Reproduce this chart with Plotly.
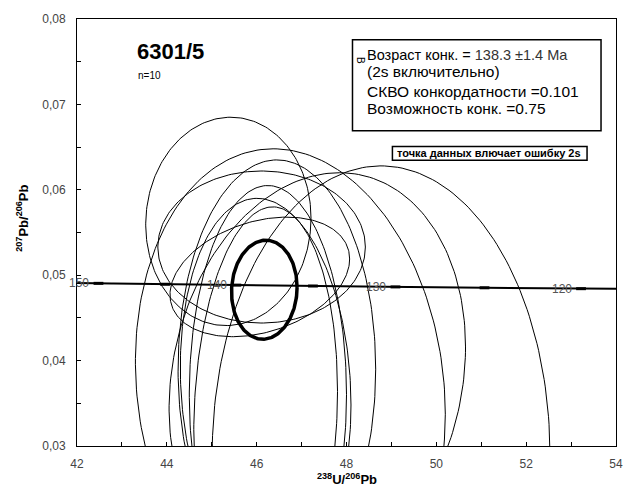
import numpy as np
import plotly.graph_objects as go

# ---- data: 10 analysis ellipses (centre, 2-sigma half-extent, error correlation)
ell_x   = [45.37, 46.11, 46.07, 48.77, 46.75, 47.35, 46.45, 46.20, 46.25, 46.20]
ell_y   = [0.0563, 0.0533, 0.0498, 0.0290, 0.0368, 0.0380, 0.0390, 0.0370, 0.0360, 0.0340]
ell_sx  = [1.84, 2.31, 2.00, 3.76, 3.45, 3.30, 2.20, 1.90, 1.75, 1.60]
ell_sy  = [0.0122, 0.0089, 0.0070, 0.0338, 0.0280, 0.0240, 0.0245, 0.0220, 0.0245, 0.0240]
ell_rho = [0.03, 0.00, 0.30, 0.00, -0.11, 0.15, 0.00, -0.10, 0.00, 0.10]

# concordia-age ellipse
mean_x, mean_y, mean_sx, mean_sy, mean_rho = 46.17, 0.0483, 0.73, 0.0058, 0.05

# concordia age ticks / labels (Ma)
age_ticks = [115, 120, 125, 130, 135, 140, 145, 150, 155]
age_labels = [120, 130, 140, 150]

box_lines = ["Возраст конк. = <span style='color:#333'>138.3 ±1.4 Ma</span>",
             "(2s включительно)",
             "СКВО конкордатности =0.101",
             "Возможность конк. =0.75"]

L238, L235, U = 1.55125e-10, 9.8485e-10, 137.88


def tw(age_ma):
    t = np.asarray(age_ma, dtype=float) * 1e6
    e8 = np.expm1(L238 * t)
    e5 = np.expm1(L235 * t)
    return 1.0 / e8, e5 / e8 / U


def ellipse(cx, cy, sx, sy, rho, n=240):
    th = np.linspace(0, 2 * np.pi, n)
    x = cx + sx * np.cos(th)
    y = cy + sy * (rho * np.cos(th) + np.sqrt(1 - rho ** 2) * np.sin(th))
    return x, y


fig = go.Figure()

for cx, cy, sx, sy, r in zip(ell_x, ell_y, ell_sx, ell_sy, ell_rho):
    x, y = ellipse(cx, cy, sx, sy, r)
    fig.add_trace(go.Scatter(x=x, y=y, mode="lines",
                             line=dict(color="black", width=1), hoverinfo="skip"))

# concordia curve
ages = np.linspace(110, 160, 400)
cxs, cys = tw(ages)
fig.add_trace(go.Scatter(x=cxs, y=cys, mode="lines",
                         line=dict(color="black", width=2), hoverinfo="skip"))
tx, ty = tw(age_ticks)
fig.add_trace(go.Scatter(x=tx, y=ty, mode="markers",
                         marker=dict(symbol="line-ew", size=7,
                                     line=dict(color="black", width=3)),
                         hoverinfo="skip"))

# concordia-age ellipse
mx, my = ellipse(mean_x, mean_y, mean_sx, mean_sy, mean_rho)
fig.add_trace(go.Scatter(x=mx, y=my, mode="lines",
                         line=dict(color="black", width=3.5), hoverinfo="skip"))

font = "Arial, Liberation Sans, sans-serif"
W, H = 635, 496
L, R, T, B = 77, 18, 14, 50
pw, ph = W - L - R, H - T - B


def px(xp):
    return (xp - L) / pw


def py(yp):
    return (H - B - yp) / ph


ann = []
lx, ly = tw(age_labels)
for a, xx, yy in zip(age_labels, lx, ly):
    ann.append(dict(x=xx, y=yy, xref="x", yref="y", text=str(a), showarrow=False,
                    xanchor="right", yanchor="middle", xshift=-7,
                    font=dict(family=font, size=12, color="#555")))

pann = []
pann.append(dict(x=px(135), y=py(47), text="<b>6301/5</b>", showarrow=False,
                 xanchor="left", yanchor="middle", font=dict(family=font, size=22, color="black")))
pann.append(dict(x=px(136), y=py(71), text="n=10", showarrow=False,
                 xanchor="left", yanchor="middle", font=dict(family=font, size=10, color="black")))
line_y = [50, 67, 87, 105]
line_sz = [14.5, 15.5, 15.5, 15.5]
for txt, yy, sz in zip(box_lines, line_y, line_sz):
    pann.append(dict(x=px(366), y=py(yy), text=txt, showarrow=False,
                     xanchor="left", yanchor="middle",
                     font=dict(family=font, size=sz, color="black")))
pann.append(dict(x=px(361), y=py(56), text="В", textangle=90, showarrow=False,
                 xanchor="center", yanchor="middle", font=dict(family=font, size=10, color="black")))
pann.append(dict(x=px(490), y=py(150), text="<b>точка данных влючает ошибку 2s</b>", showarrow=False,
                 xanchor="center", yanchor="middle", font=dict(family=font, size=11, color="black")))
pann.append(dict(x=px(22), y=py(216), text="<b><sup>207</sup>Pb/<sup>206</sup>Pb</b>", textangle=-90,
                 showarrow=False, xanchor="center", yanchor="middle",
                 font=dict(family=font, size=13, color="black")))
pann.append(dict(x=px(347), y=py(479), text="<b><sup>238</sup>U/<sup>206</sup>Pb</b>",
                 showarrow=False, xanchor="center", yanchor="middle",
                 font=dict(family=font, size=13, color="black")))
for a in pann:
    a["xref"] = "paper"
    a["yref"] = "paper"
ann += pann

shapes = [
    dict(type="rect", xref="paper", yref="paper", x0=px(353), x1=px(602), y0=py(127), y1=py(35),
         line=dict(color="black", width=1.5), fillcolor="white", layer="above"),
    dict(type="rect", xref="paper", yref="paper", x0=px(393), x1=px(588), y0=py(157), y1=py(143),
         line=dict(color="black", width=1.5), fillcolor="white", layer="above"),
]

axis_common = dict(showline=True, linecolor="black", linewidth=1, mirror=True,
                   showgrid=False, zeroline=False, ticks="inside", ticklen=4,
                   tickcolor="black",
                   tickfont=dict(family=font, size=12, color="#444"))

fig.update_layout(
    width=W, height=H, margin=dict(l=L, r=R, t=T, b=B),
    paper_bgcolor="white", plot_bgcolor="white", showlegend=False,
    separators=", ",
    xaxis=dict(range=[42, 54], dtick=2, tick0=42,
               minor=dict(dtick=1, ticks="inside", ticklen=4, tickcolor="black"),
               ticklabelstandoff=7, **axis_common),
    yaxis=dict(range=[0.03, 0.08], dtick=0.01, tick0=0.03, tickformat=".2f",
               minor=dict(dtick=0.005, ticks="inside", ticklen=4, tickcolor="black"),
               ticklabelstandoff=8, **axis_common),
    annotations=ann, shapes=shapes,
)

fig.write_html("out.html")
